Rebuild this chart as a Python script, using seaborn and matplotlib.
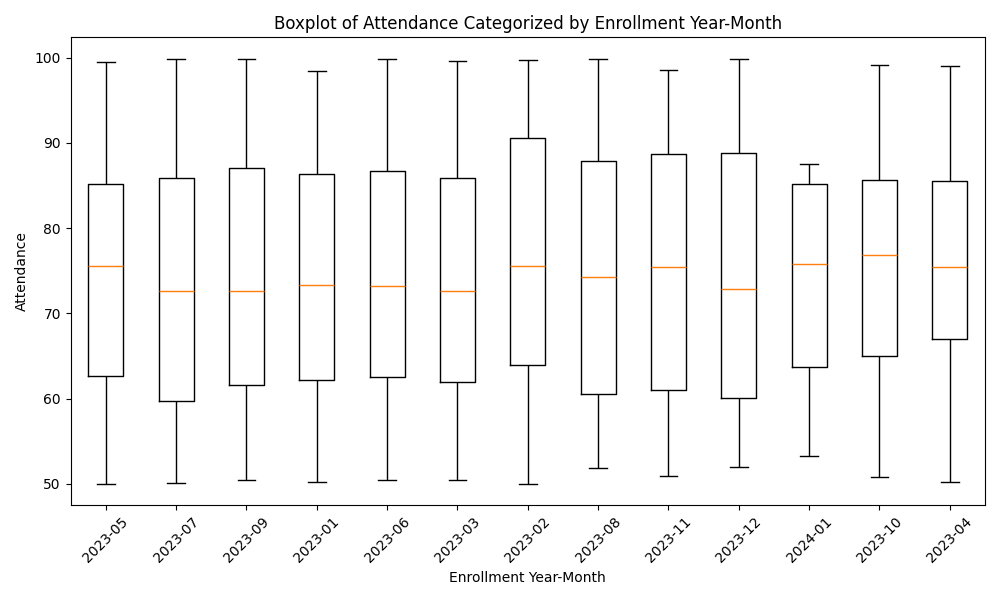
import pandas as pd
import matplotlib
matplotlib.use("Agg")
import matplotlib.pyplot as plt
import seaborn as sns

# summary stats: min, q1, median, q3, max
months = ['2023-05', '2023-07', '2023-09', '2023-01', '2023-06', '2023-03', '2023-02',
          '2023-08', '2023-11', '2023-12', '2024-01', '2023-10', '2023-04']
mins = [50.0, 50.1, 50.5, 50.2, 50.5, 50.5, 50.0, 51.8, 50.9, 52.0, 53.3, 50.8, 50.2]
q1s = [62.6, 59.7, 61.6, 62.2, 62.5, 61.9, 64.0, 60.5, 61.0, 60.1, 63.7, 65.0, 67.0]
medians = [75.6, 72.6, 72.6, 73.3, 73.2, 72.6, 75.6, 74.3, 75.4, 72.9, 75.8, 76.8, 75.4]
q3s = [85.2, 85.9, 87.1, 86.4, 86.7, 85.9, 90.6, 87.9, 88.7, 88.8, 85.2, 85.6, 85.5]
maxs = [99.5, 99.9, 99.9, 98.4, 99.9, 99.6, 99.7, 99.9, 98.6, 99.9, 87.5, 99.1, 99.0]

# five points per month give exactly these quartiles
rows = []
for i, m in enumerate(months):
    for v in (mins[i], q1s[i], medians[i], q3s[i], maxs[i]):
        rows.append({'Enrollment Year-Month': m, 'Attendance': v})
df = pd.DataFrame(rows)

plt.figure(figsize=(10, 6))
ax = sns.boxplot(data=df, x='Enrollment Year-Month', y='Attendance', order=months,
                 fill=False, color='black', width=0.5, linewidth=1, whis=1.5,
                 medianprops={'color': '#ff7f0e'})
plt.title('Boxplot of Attendance Categorized by Enrollment Year-Month')
plt.xlabel('Enrollment Year-Month')
plt.ylabel('Attendance')
plt.xticks(rotation=45)
plt.tight_layout()
plt.savefig('out.png')
